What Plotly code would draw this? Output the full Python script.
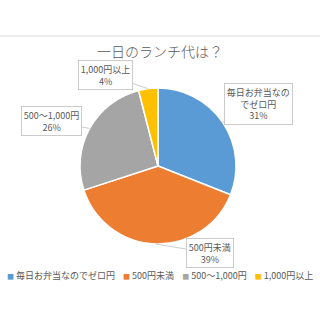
import math
import plotly.graph_objects as go

categories = ["毎日お弁当なのでゼロ円", "500円未満", "500～1,000円", "1,000円以上"]
label_lines = ["毎日お弁当なの<br>でゼロ円", "500円未満", "500～1,000円", "1,000円以上"]
values = [31, 39, 26, 4]
colors = ["#5B9BD5", "#ED7D31", "#A5A5A5", "#FFC000"]
title_text = "一日のランチ代は？"

W = H = 320
FONT = "Noto Sans CJK JP, Noto Sans, sans-serif"
cx, cy, R = 158, 166, 78  # pixel geometry of pie (top-based)
dom_x = [(cx - R) / W, (cx + R) / W]
dom_y = [1 - (cy + R) / H, 1 - (cy - R) / H]

fig = go.Figure(go.Pie(
    labels=categories, values=values, sort=False, direction="clockwise", rotation=0,
    marker=dict(colors=colors, line=dict(color="white", width=1.5)),
    textinfo="none", hoverinfo="label+percent", showlegend=False,
    domain=dict(x=dom_x, y=dom_y),
))

# label box offsets (px) relative to slice edge
offsets = [(36, -18), (54, 9), (-38, -7), (-43, -14)]
total = sum(values)
cum = 0
for i, v in enumerate(values):
    mid = (cum + v / 2) / total * 2 * math.pi
    cum += v
    px = cx + R * math.sin(mid)
    py = cy - R * math.cos(mid)
    pct = round(v / total * 100)
    fig.add_annotation(
        x=px / W, y=1 - py / H, xref="paper", yref="paper",
        text=f"{label_lines[i]}<br>{pct}%",
        showarrow=True, arrowhead=0, arrowwidth=0.8, arrowcolor="#BFBFBF",
        ax=offsets[i][0], ay=offsets[i][1], standoff=0,
        font=dict(family=FONT, size=9, color="#595959"),
        bgcolor="white", bordercolor="#BFBFBF", borderwidth=0.8, borderpad=2,
    )

legend_parts = []
for c, name in zip(colors, categories):
    legend_parts.append(f"<span style='color:{c};font-size:7px'>■</span> {name}")
fig.add_annotation(
    x=0.5, y=1 - 275 / H, xref="paper", yref="paper", showarrow=False,
    text="    ".join(legend_parts), xanchor="center", yanchor="middle",
    font=dict(family=FONT, size=9, color="#595959"),
)

fig.add_shape(type="line", xref="paper", yref="paper", x0=0, x1=1,
              y0=1 - 36 / H, y1=1 - 36 / H, line=dict(color="#D9D9D9", width=1))

fig.update_layout(
    width=W, height=H, margin=dict(l=0, r=0, t=0, b=0),
    paper_bgcolor="white", plot_bgcolor="white",
    title=dict(text=title_text, x=0.5, xanchor="center", y=1 - 52 / H, yanchor="middle",
               font=dict(family=FONT, size=14, color="#595959", weight=300)),
)
fig.write_html("out.html")
